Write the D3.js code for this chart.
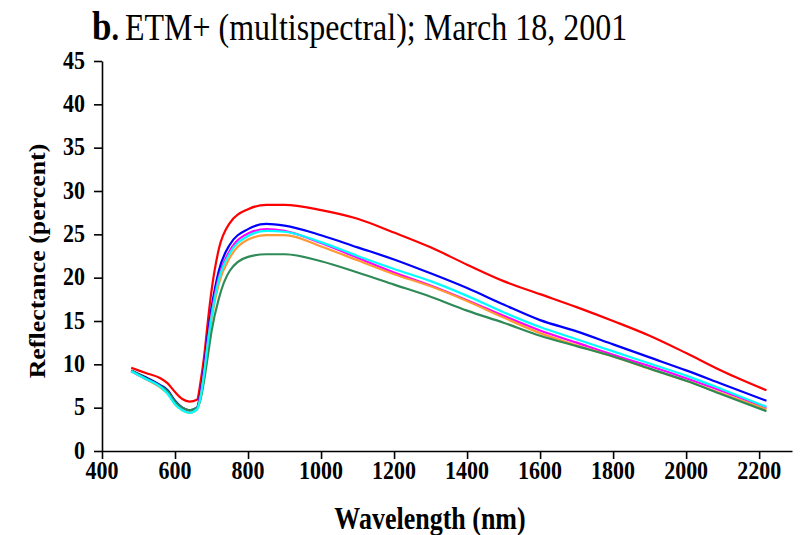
<!DOCTYPE html>
<html>
<head>
<meta charset="utf-8">
<script src="https://cdn.jsdelivr.net/npm/d3@7"></script>
<style>
  body { margin: 0; background: #fff; }
  svg { display: block; }
</style>
</head>
<body>
<svg id="chart"></svg>
<script>
  const wavelengths = [480, 520, 560, 580, 600, 620, 640, 660, 670, 680, 690, 700, 720, 750, 800, 850, 900, 1000, 1100, 1200, 1300, 1400, 1500, 1600, 1700, 1800, 1900, 2000, 2100, 2220];

  // reflectance (percent), one array per plotted spectrum
  const redSeries     = [9.6, 9.0, 8.4, 7.8, 6.8, 6.0, 5.7, 5.9, 8.0, 11.0, 15.0, 18.5, 23.3, 26.3, 27.9, 28.4, 28.4, 27.8, 26.8, 25.2, 23.5, 21.5, 19.6, 18.1, 16.6, 15.0, 13.3, 11.3, 9.2, 7.0];
  const blueSeries    = [9.3, 8.5, 7.6, 7.0, 5.8, 5.0, 4.7, 5.0, 6.8, 9.8, 13.5, 16.5, 20.8, 23.8, 25.6, 26.2, 26.0, 24.9, 23.5, 22.1, 20.5, 18.8, 16.9, 15.1, 13.8, 12.3, 10.8, 9.3, 7.7, 5.8];
  const magentaSeries = [9.2, 8.3, 7.4, 6.7, 5.5, 4.8, 4.5, 4.9, 6.4, 9.3, 12.8, 15.8, 20.1, 23.1, 25.1, 25.6, 25.4, 24.0, 22.3, 20.6, 19.1, 17.4, 15.6, 13.9, 12.5, 11.1, 9.8, 8.4, 6.9, 5.0];
  const cyanSeries    = [9.2, 8.3, 7.4, 6.6, 5.4, 4.7, 4.4, 4.8, 6.2, 9.0, 12.5, 15.5, 19.8, 22.8, 24.8, 25.4, 25.3, 24.1, 22.5, 21.0, 19.6, 17.9, 16.0, 14.3, 12.9, 11.5, 10.1, 8.7, 7.1, 5.1];
  const orangeSeries  = [9.2, 8.3, 7.3, 6.6, 5.4, 4.7, 4.4, 4.8, 6.1, 8.8, 12.2, 15.2, 19.3, 22.3, 24.4, 24.9, 24.9, 23.6, 22.0, 20.4, 19.0, 17.3, 15.4, 13.6, 12.2, 10.9, 9.5, 8.1, 6.6, 4.8];
  const greenSeries   = [9.3, 8.4, 7.5, 6.9, 5.7, 5.0, 4.7, 5.0, 6.0, 8.2, 11.0, 13.8, 17.6, 20.8, 22.4, 22.7, 22.7, 21.9, 20.6, 19.2, 17.8, 16.2, 14.8, 13.3, 12.1, 10.9, 9.5, 8.1, 6.5, 4.6];

  const xTicks = [400, 600, 800, 1000, 1200, 1400, 1600, 1800, 2000, 2200];
  const yTicks = [0, 5, 10, 15, 20, 25, 30, 35, 40, 45];

  const series = [
    { name: 'red', values: redSeries, color: '#ff0000' },
    { name: 'blue', values: blueSeries, color: '#0000ff' },
    { name: 'magenta', values: magentaSeries, color: '#ff00ff' },
    { name: 'orange', values: orangeSeries, color: '#ff9933' },
    { name: 'green', values: greenSeries, color: '#2e8b57' },
    { name: 'cyan', values: cyanSeries, color: '#00ffff' }
  ];

  const width = 802;
  const height = 535;
  const margin = { left: 102, right: 10, top: 61, bottom: 84 };

  // the source figure is a bit taller than wide, so text is drawn stretched vertically
  const stretch = 1.18;

  const svg = d3.select('#chart')
    .attr('width', width)
    .attr('height', height);

  const x = d3.scaleLinear().domain([400, 2290]).range([margin.left, width - margin.right]);
  const y = d3.scaleLinear().domain([0, 45]).range([height - margin.bottom, margin.top]);

  const serif = '"Liberation Serif", "Times New Roman", serif';

  function placed(px, py) {
    return 'translate(' + px + ',' + py + ') scale(1,' + stretch + ')';
  }

  // title
  const title = svg.append('text')
    .attr('transform', placed(92, 40))
    .style('font-family', serif)
    .attr('fill', '#000');
  title.append('tspan').style('font-weight', 'bold').style('font-size', '35px').text('b');
  title.append('tspan').style('font-weight', 'bold').style('font-size', '30px').text('.');
  title.append('tspan').style('font-size', '32px').attr('dx', 6).text('ETM+ (multispectral); March 18, 2001');

  // axes
  const xAxis = d3.axisBottom(x).tickValues(xTicks).tickSize(8).tickSizeOuter(0).tickFormat('');
  const yAxis = d3.axisLeft(y).tickValues(yTicks).tickSize(8).tickSizeOuter(0).tickFormat('');

  const gx = svg.append('g').attr('transform', 'translate(0,' + y(0) + ')').call(xAxis);
  const gy = svg.append('g').attr('transform', 'translate(' + x(400) + ',0)').call(yAxis);
  [gx, gy].forEach(function(g) {
    g.selectAll('path, line').attr('stroke', '#000').attr('stroke-width', 1.6);
  });

  svg.append('g').selectAll('text')
    .data(xTicks)
    .enter().append('text')
    .attr('transform', function(d) { return placed(x(d), 479); })
    .attr('text-anchor', 'middle')
    .style('font-family', serif)
    .style('font-weight', 'bold')
    .style('font-size', '22px')
    .text(function(d) { return d; });

  svg.append('g').selectAll('text')
    .data(yTicks)
    .enter().append('text')
    .attr('transform', function(d) { return placed(85, y(d) + 7.5); })
    .attr('text-anchor', 'end')
    .style('font-family', serif)
    .style('font-weight', 'bold')
    .style('font-size', '22px')
    .text(function(d) { return d; });

  svg.append('text')
    .attr('transform', placed(430, 529))
    .attr('text-anchor', 'middle')
    .style('font-family', serif)
    .style('font-weight', 'bold')
    .style('font-size', '26px')
    .text('Wavelength (nm)');

  svg.append('text')
    .attr('transform', 'translate(45,261) rotate(-90) scale(1.08,1)')
    .attr('text-anchor', 'middle')
    .style('font-family', serif)
    .style('font-weight', 'bold')
    .style('font-size', '24px')
    .text('Reflectance (percent)');

  // spectra
  const line = d3.line()
    .x(function(d, i) { return x(wavelengths[i]); })
    .y(function(d) { return y(d); })
    .curve(d3.curveMonotoneX);

  svg.append('g').selectAll('path')
    .data(series)
    .enter().append('path')
    .attr('d', function(d) { return line(d.values); })
    .attr('fill', 'none')
    .attr('stroke', function(d) { return d.color; })
    .attr('stroke-width', 2.2)
    .attr('stroke-linejoin', 'round');
</script>
</body>
</html>
